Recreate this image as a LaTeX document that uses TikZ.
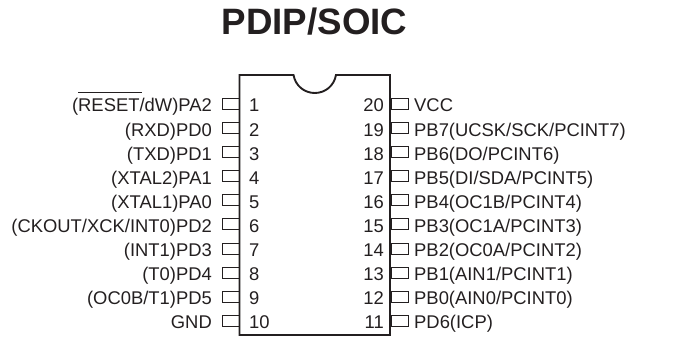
\documentclass[tikz,border=0pt]{standalone}
\usepackage{fontspec}
\setmainfont{Liberation Sans}
\definecolor{ink}{HTML}{231F20}
\tikzset{
  x=1pt,y=-1pt,
  pinbox/.style={draw=ink,line width=0.6pt,minimum width=17pt,minimum height=11pt,inner sep=0pt,outer sep=0pt},
  lbl/.style={font=\fontsize{18.4}{20}\selectfont,text=ink,inner sep=0pt}
}
\begin{document}
\begin{tikzpicture}
\useasboundingbox (0,0) rectangle (695,339);
\node[font=\bfseries\fontsize{36.7}{40}\selectfont,text=ink,inner sep=0pt] (title) at (314.5,22) {PDIP/SOIC};
\foreach \i/\t in {1/{(RESET/dW)PA2},2/{(RXD)PD0},3/{(TXD)PD1},4/{(XTAL2)PA1},5/{(XTAL1)PA0},6/{(CKOUT/XCK/INT0)PD2},7/{(INT1)PD3},8/{(T0)PD4},9/{(OC0B/T1)PD5},10/{GND}}{
  \pgfmathsetmacro{\yy}{112+(\i-1)*24.05}
  \node[pinbox] (L\i) at (230.5,\yy-8) {};
  \node[lbl,anchor=base east] (LT\i) at (212,\yy) {\t};
  \node[lbl,anchor=base west] (LN\i) at (249,\yy) {\i};
}
\foreach \i/\n/\t in {1/20/{VCC},2/19/{PB7(UCSK/SCK/PCINT7)},3/18/{PB6(DO/PCINT6)},4/17/{PB5(DI/SDA/PCINT5)},5/16/{PB4(OC1B/PCINT4)},6/15/{PB3(OC1A/PCINT3)},7/14/{PB2(OC0A/PCINT2)},8/13/{PB1(AIN1/PCINT1)},9/12/{PB0(AIN0/PCINT0)},10/11/{PD6(ICP)}}{
  \pgfmathsetmacro{\yy}{112+(\i-1)*24.05}
  \node[pinbox] (R\i) at (399.5,\yy-8) {};
  \node[lbl,anchor=base west] (RT\i) at (414,\yy) {\t};
  \node[lbl,anchor=base east] (RN\i) at (384,\yy) {\n};
}
\draw[ink,line width=1.9pt] (293.5,75) -- (239.5,75) -- (239.5,335) -- (390,335) -- (390,75) -- (336,75)
  .. controls (334,86) and (325,93) .. (314.8,93) .. controls (304.5,93) and (295.5,86) .. (293.5,75) -- cycle;
\draw[ink,line width=0.8pt] (78,92.5) -- (142,92.5);
\end{tikzpicture}
\end{document}
